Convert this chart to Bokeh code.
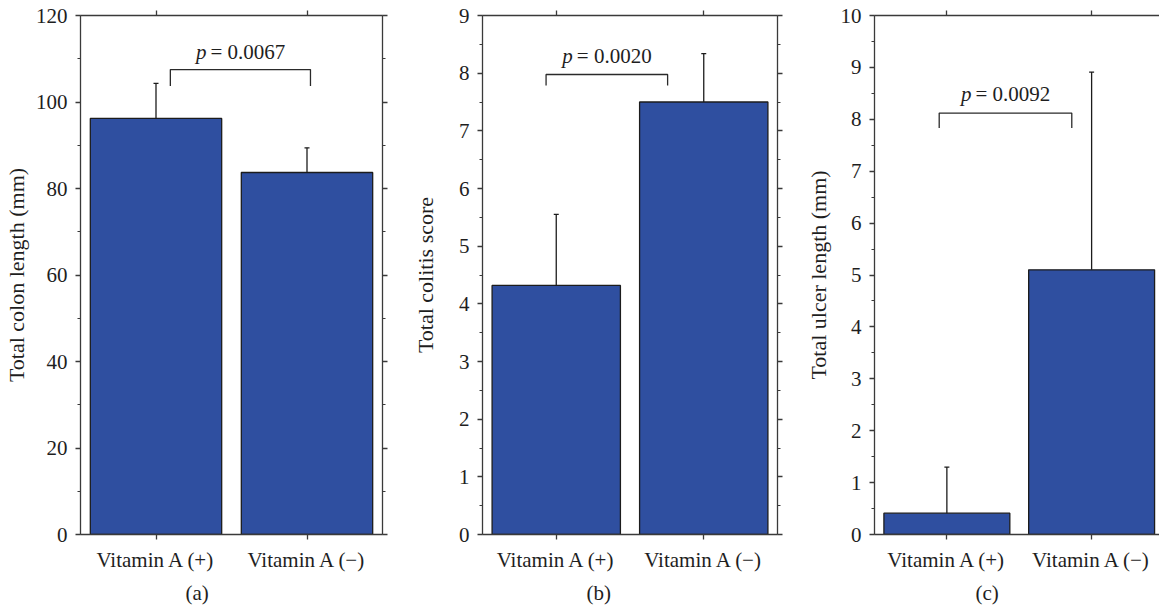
from bokeh.plotting import figure
from bokeh.models import (Range1d, LinearAxis, SingleIntervalTicker, FixedTicker,
                          Whisker, TeeHead, ColumnDataSource, Title, CustomLabelingPolicy)
from bokeh.layouts import row
from bokeh.embed import file_html
from bokeh.resources import INLINE
from bokeh.core.properties import value

# ---------------- data ----------------
groups = ["Vitamin A (+)", "Vitamin A (\u2212)"]
colon_mean = [96.2, 83.7]
colon_err = [8.1, 5.7]
colitis_mean = [4.32, 7.50]
colitis_err = [1.23, 0.84]
ulcer_mean = [0.41, 5.10]
ulcer_err = [0.89, 3.81]
p_values = ["0.0067", "0.0020", "0.0092"]
y_labels = ["Total colon length (mm)", "Total colitis score", "Total ulcer length (mm)"]
captions = ["(a)", "(b)", "(c)"]
y_max = [120, 9, 10]
y_tick_interval = [20, 1, 1]
# significance brackets: (left, right) in group units, (leg bottom, top) in data units
bracket_x = [(0.095, 1.023), (-0.069, 0.755), (-0.053, 0.863)]
bracket_y = [(103.7, 107.5), (7.786, 7.977), (7.83, 8.12)]
p_text_y = [111.6, 8.30, 8.49]
caption_offset = [105, 104, 101]

# ---------------- style ----------------
FONT = "Liberation Serif"
BAR = "#2f4fa0"
AX = "#3a3a3a"
TXT = "#1e1e1e"
HIDE_ALL = "for (const i of indices) indices.unset(i)"


def style_axis(ax, labels=True):
    ax.axis_line_color = AX
    ax.axis_line_width = 1.3
    ax.major_tick_line_color = AX
    ax.major_tick_line_width = 1.3
    ax.minor_tick_line_color = AX
    ax.minor_tick_line_width = 1.2
    ax.major_tick_in = 0
    ax.major_tick_out = 5
    ax.minor_tick_in = 0
    ax.minor_tick_out = 3
    ax.major_label_text_font = FONT
    ax.major_label_text_color = TXT
    ax.axis_label_text_font = FONT
    ax.axis_label_text_font_style = "normal"
    ax.axis_label_text_font_size = "22px"
    ax.axis_label_text_color = TXT
    if labels:
        ax.major_label_text_font_size = "21px"
        ax.major_label_standoff = 8
    else:
        ax.major_label_text_font_size = "1px"
        ax.major_label_standoff = 0
        ax.major_label_policy = CustomLabelingPolicy(code=HIDE_ALL)


def make_panel(i, means, errs, width, border_left, border_right, x_end,
               label_standoff, right_axis=True):
    xs = list(range(len(groups)))
    p = figure(width=width, height=609,
               x_range=Range1d(-0.5, x_end), y_range=Range1d(0, y_max[i]),
               output_backend="svg", toolbar_location=None,
               min_border_left=border_left, min_border_right=border_right,
               min_border_top=15, min_border_bottom=75,
               x_axis_location=None, y_axis_location=None)
    p.outline_line_color = None
    p.background_fill_color = "white"
    p.border_fill_color = "white"

    yt = lambda: SingleIntervalTicker(interval=y_tick_interval[i], num_minor_ticks=2)
    xt = lambda: FixedTicker(ticks=xs, minor_ticks=[])

    left = LinearAxis(ticker=yt(), axis_label=y_labels[i])
    style_axis(left)
    left.axis_label_standoff = label_standoff
    p.add_layout(left, "left")

    bottom = LinearAxis(ticker=xt(), major_label_overrides={x: g for x, g in zip(xs, groups)})
    style_axis(bottom)
    p.add_layout(bottom, "below")

    cap = Title(text=captions[i], align="left", offset=caption_offset[i],
                text_font=FONT, text_font_size="21px", text_font_style="normal",
                text_color=TXT, standoff=9)
    p.add_layout(cap, "below")

    top = LinearAxis(ticker=xt())
    style_axis(top, labels=False)
    p.add_layout(top, "above")

    if right_axis:
        right = LinearAxis(ticker=yt())
        style_axis(right, labels=False)
        p.add_layout(right, "right")

    p.grid.grid_line_color = None

    src = ColumnDataSource(dict(x=xs, top=means,
                                upper=[m + e for m, e in zip(means, errs)]))
    p.vbar(x="x", top="top", bottom=0, width=0.87, source=src,
           fill_color=BAR, line_color="#1c1c1c", line_width=1.3)
    w = Whisker(base="x", upper="upper", lower="top", source=src, dimension="height",
                line_color="#1c1c1c", line_width=1.3,
                upper_head=TeeHead(size=5, line_color="#1c1c1c", line_width=1.3),
                lower_head=None, level="glyph")
    p.add_layout(w)

    bx0, bx1 = bracket_x[i]
    by0, by1 = bracket_y[i]
    p.line(x=[bx0, bx0, bx1, bx1], y=[by0, by1, by1, by0], line_color="#2a2a2a", line_width=1.3)
    cx = (bx0 + bx1) / 2
    p.text(x=[cx], y=[p_text_y[i]], text=["p"], text_font=value(FONT),
           text_font_style="italic", text_font_size="21px", text_color=TXT,
           text_align="right", text_baseline="alphabetic", x_offset=-34)
    p.text(x=[cx], y=[p_text_y[i]], text=["= " + p_values[i]], text_font=value(FONT),
           text_font_size="21px", text_color=TXT,
           text_align="left", text_baseline="alphabetic", x_offset=-30)
    return p


pa = make_panel(0, colon_mean, colon_err, 392, 80, 6, 1.5, 4)
pb = make_panel(1, colitis_mean, colitis_err, 394, 90, 6, 1.5, 18)
pc = make_panel(2, ulcer_mean, ulcer_err, 373, 88, 0, 1.469, 7, right_axis=False)

layout = row(pa, pb, pc)
open("out.html", "w").write(file_html(layout, INLINE))
